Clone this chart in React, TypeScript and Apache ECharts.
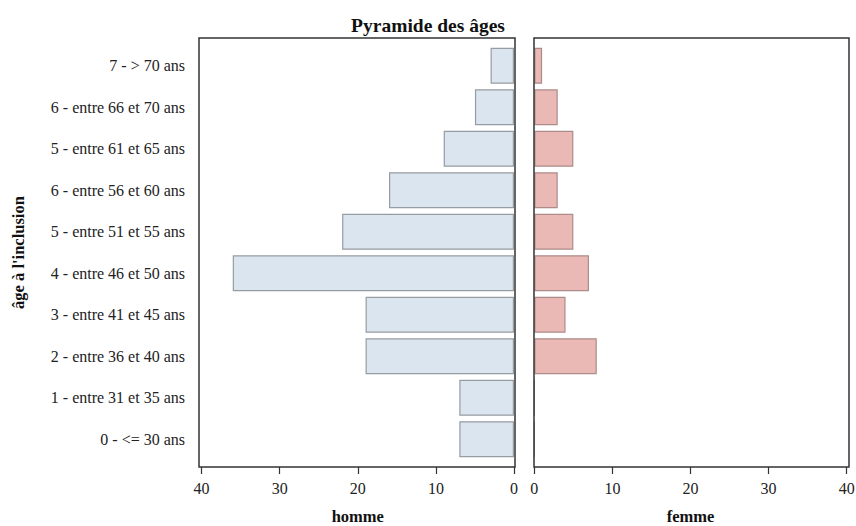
import React, { useEffect, useRef } from "react";
import * as echarts from "echarts";

const categories = [
  "0 - <= 30 ans",
  "1 - entre 31 et 35 ans",
  "2 - entre 36 et 40 ans",
  "3 - entre 41 et 45 ans",
  "4 - entre 46 et 50 ans",
  "5 - entre 51 et 55 ans",
  "6 - entre 56 et 60 ans",
  "5 - entre 61 et 65 ans",
  "6 - entre 66 et 70 ans",
  "7 - > 70 ans",
];
const homme = [7, 7, 19, 19, 36, 22, 16, 9, 5, 3];
const femme = [0, 0, 8, 4, 7, 5, 3, 5, 3, 1];

const FONT = "'Liberation Serif', 'DejaVu Serif', serif";

export default function App() {
  const ref = useRef<HTMLDivElement>(null);
  useEffect(() => {
    const chart = echarts.init(ref.current!, null, { renderer: "svg" });
    const frameTop = 38;
    const frameBottom = 467;
    const padY = 7;
    const gridTop = frameTop + padY;
    const gridH = frameBottom - frameTop - 2 * padY;
    const L = { x0: 199, x1: 515, gl: 201.5, gw: 312.5 };
    const R = { x0: 534, x1: 849, gl: 534.3, gw: 312.4 };
    const axisLabel = { fontFamily: FONT, fontSize: 16, color: "#222" };
    const nameStyle = { fontFamily: FONT, fontSize: 16.5, fontWeight: "bold", color: "#111" };
    const tickStyle = { color: "#333", width: 1.2 };
    const xAxisCommon = {
      type: "value",
      min: 0,
      max: 40,
      interval: 10,
      offset: padY,
      axisLine: { show: false },
      axisTick: { show: true, length: 7, lineStyle: tickStyle },
      axisLabel: { ...axisLabel, margin: 13 },
      splitLine: { show: false },
      nameLocation: "middle",
      nameGap: 41,
      nameTextStyle: nameStyle,
    };
    chart.setOption({
      animation: false,
      title: {
        text: "Pyramide des âges",
        left: "center",
        top: 10,
        textStyle: { fontFamily: FONT, fontSize: 19.5, fontWeight: "bold", color: "#111" },
      },
      grid: [
        { left: L.gl, top: gridTop, width: L.gw, height: gridH, outerBoundsMode: "none", containLabel: false },
        { left: R.gl, top: gridTop, width: R.gw, height: gridH, outerBoundsMode: "none", containLabel: false },
      ],
      xAxis: [
        { ...xAxisCommon, gridIndex: 0, inverse: true, name: "homme" },
        { ...xAxisCommon, gridIndex: 1, name: "femme" },
      ],
      yAxis: [
        {
          type: "category",
          gridIndex: 0,
          data: categories,
          offset: L.gl - L.x0,
          axisLine: { show: false },
          axisTick: { show: true, alignWithLabel: true, length: 7, lineStyle: tickStyle },
          axisLabel: { ...axisLabel, margin: 14 },
          name: "âge à l'inclusion",
          nameLocation: "middle",
          nameGap: 172,
          nameRotate: 90,
          nameTextStyle: nameStyle,
        },
        {
          type: "category",
          gridIndex: 1,
          data: categories,
          axisLine: { show: false },
          axisTick: { show: false },
          axisLabel: { show: false },
        },
      ],
      series: [
        {
          type: "bar",
          name: "homme",
          xAxisIndex: 0,
          yAxisIndex: 0,
          data: homme,
          barWidth: 36,
          itemStyle: { color: "#dae5f0", borderColor: "#979ca3", borderWidth: 1.2 },
        },
        {
          type: "bar",
          name: "femme",
          xAxisIndex: 1,
          yAxisIndex: 1,
          data: femme,
          barWidth: 36,
          itemStyle: { color: "#eab9b5", borderColor: "#ad8b8a", borderWidth: 1.2 },
        },
      ],
      graphic: [
        {
          type: "rect",
          shape: { x: L.x0, y: frameTop, width: L.x1 - L.x0, height: frameBottom - frameTop },
          style: { fill: "none", stroke: "#333", lineWidth: 1.5 },
          z: 100,
        },
        {
          type: "rect",
          shape: { x: R.x0, y: frameTop, width: R.x1 - R.x0, height: frameBottom - frameTop },
          style: { fill: "none", stroke: "#333", lineWidth: 1.5 },
          z: 100,
        },
      ],
    });
    return () => chart.dispose();
  }, []);
  return (
    <div
      ref={ref}
      style={{ position: "absolute", left: 0, top: 0, width: 856, height: 526 }}
    />
  );
}
